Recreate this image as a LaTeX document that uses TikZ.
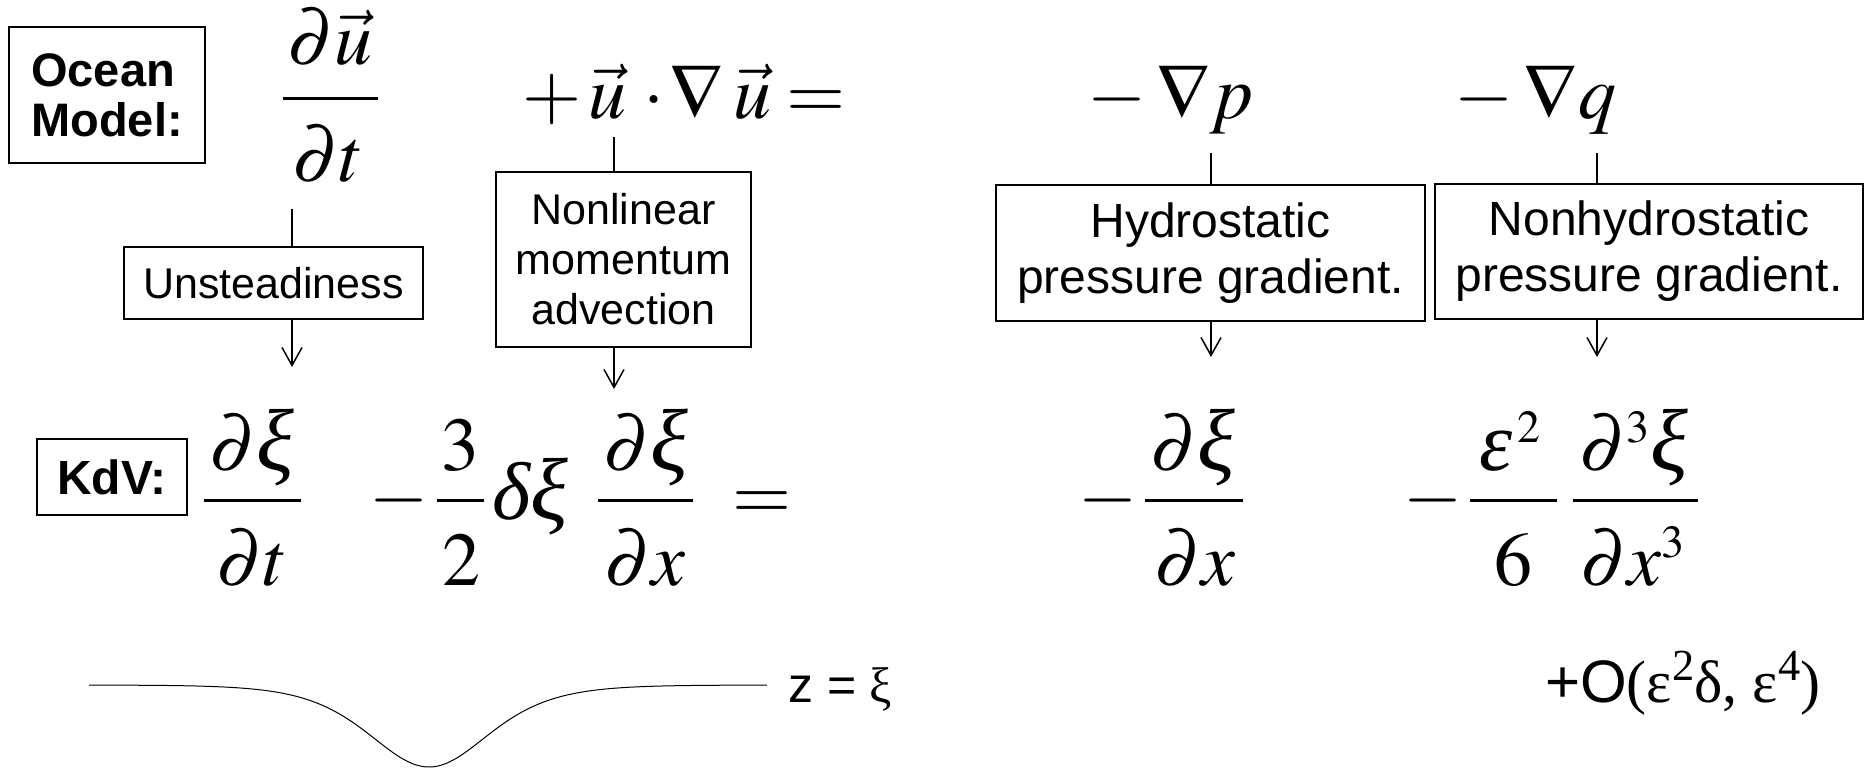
\documentclass[tikz,border=0pt]{standalone}
\usepackage{mathptmx}
\usepackage[no-math]{fontspec}
\setmainfont{Liberation Serif}
\setsansfont{Liberation Sans}
\usetikzlibrary{arrows.meta}
\DeclareMathSizes{76}{76}{46}{34}
\newcommand{\gxi}{\mbox{\fontsize{88}{88}\selectfont\itshape ξ}}
\newcommand{\gdelta}{\mbox{\fontsize{82}{82}\selectfont\itshape δ}}
\newcommand{\geps}{\mbox{\fontsize{84}{84}\selectfont\itshape ε}}
\begin{document}
\begin{tikzpicture}[x=1pt,y=-1pt,
  m/.style={inner sep=0pt, anchor=base, font=\fontsize{76}{80}\selectfont},
  labelbox/.style={draw, line width=1.5pt, inner sep=0pt, align=center, font=\sffamily\fontsize{43}{50}\selectfont},
  fracbar/.style={line width=3pt},
  conn/.style={line width=1.5pt},
  arr/.style={line width=1.5pt, -{Straight Barb[length=18pt,width=20pt,line width=1.5pt]}},
  curve/.style={line width=1pt}]
\useasboundingbox (0,0) rectangle (1864,768);

% ---- top row: ocean model
\node[labelbox, minimum width=196pt, minimum height=136pt, align=left,
      font=\sffamily\bfseries\fontsize{47}{50}\selectfont] (ocean) at (107,95) {Ocean\\Model:};

\node[m] (num1) at (330,65) {$\partial\vec{u}$};
\node[m] (den1) at (328,181) {$\partial t$};
\draw[fracbar] (283,98) -- (378,98);

\node[m] (plus) at (552,118) {$+$};
\node[m] (u1) at (607,118) {$\vec{u}$};
\node[m] (dot) at (654,118) {$\cdot$};
\node[m] (nab1) at (697,118) {$\nabla$};
\node[m] (u2) at (752,118) {$\vec{u}$};
\node[m] (eq1) at (816,118) {$=$};

\node[m] (mp) at (1117,118) {$-$};
\node[m] (np) at (1205,118) {$\nabla p$};
\node[m] (mq) at (1484,118) {$-$};
\node[m] (nq) at (1570,118) {$\nabla q$};

% ---- label boxes
\node[labelbox, minimum width=299pt, minimum height=72pt] (unst) at (273.5,283) {Unsteadiness};
\node[labelbox, minimum width=255pt, minimum height=175pt] (nonlin) at (623.5,259.5) {Nonlinear\\momentum\\advection};
\node[labelbox, minimum width=429pt, minimum height=136pt,
      font=\sffamily\fontsize{48}{56}\selectfont] (hydro) at (1210.5,253) {Hydrostatic\\pressure gradient.};
\node[labelbox, minimum width=428pt, minimum height=135pt,
      font=\sffamily\fontsize{48}{56}\selectfont] (nonhyd) at (1649,251.5) {Nonhydrostatic\\pressure gradient.};

% ---- connectors
\coordinate (c1a) at (292,209);
\coordinate (c1b) at (292,367);
\draw[conn] (c1a) -- (c1a |- unst.north);
\draw[arr] (c1b |- unst.south) -- (c1b);

\coordinate (c2a) at (614,137);
\coordinate (c2b) at (614,389);
\draw[conn] (c2a) -- (c2a |- nonlin.north);
\draw[arr] (c2b |- nonlin.south) -- (c2b);

\coordinate (c3a) at (1211,153);
\coordinate (c3b) at (1211,357);
\draw[conn] (c3a) -- (c3a |- hydro.north);
\draw[arr] (c3b |- hydro.south) -- (c3b);

\coordinate (c4a) at (1597,153);
\coordinate (c4b) at (1597,357);
\draw[conn] (c4a) -- (c4a |- nonhyd.north);
\draw[arr] (c4b |- nonhyd.south) -- (c4b);

% ---- KdV row
\node[labelbox, minimum width=150pt, minimum height=76pt,
      font=\sffamily\bfseries\fontsize{48}{50}\selectfont] (kdv) at (112,477) {KdV:};

\node[m] (kn1) at (252,470) {$\partial\gxi$};
\node[m] (kd1) at (252,585) {$\partial t$};
\draw[fracbar] (204,500) -- (301,500);

\node[m] (km1) at (399,519) {$-$};
\node[m] (k3) at (460,470) {$3$};
\node[m] (k2) at (461,585) {$2$};
\draw[fracbar] (437,500) -- (484,500);
\node[m] (kdx) at (530,519) {$\gdelta\gxi$};

\node[m] (kn2) at (646,470) {$\partial\gxi$};
\node[m] (kd2) at (645,585) {$\partial x$};
\draw[fracbar] (598,500) -- (693,500);
\node[m] (keq) at (762,519) {$=$};

\node[m] (hm) at (1108,519) {$-$};
\node[m] (hn) at (1193,470) {$\partial\gxi$};
\node[m] (hd) at (1195,585) {$\partial x$};
\draw[fracbar] (1145,500) -- (1243,500);

\node[m] (em) at (1433,519) {$-$};
\node[m] (en) at (1510,470) {$\geps^{\,2}$};
\node[m] (ed) at (1513,585) {$6$};
\draw[fracbar] (1470,500) -- (1557,500);
\node[m] (dn) at (1634,470) {$\partial^3\gxi$};
\node[m] (dd) at (1633,585) {$\partial x^3$};
\draw[fracbar] (1573,500) -- (1698,500);

% ---- order term
\node[inner sep=0pt, anchor=base, font=\fontsize{60}{64}\selectfont] (order) at (1683,702)
  {{\sffamily +O}(ε\textsuperscript{2}δ, ε\textsuperscript{4})};

% ---- soliton sketch
\draw[curve] plot[domain=89:767, samples=300, smooth] (\x, {685+82/(cosh((\x-429)/80.6))^2});
\node[inner sep=0pt, anchor=base, font=\fontsize{50}{54}\selectfont] (zeq) at (840,702) {{\sffamily z =} ξ};
\end{tikzpicture}
\end{document}
